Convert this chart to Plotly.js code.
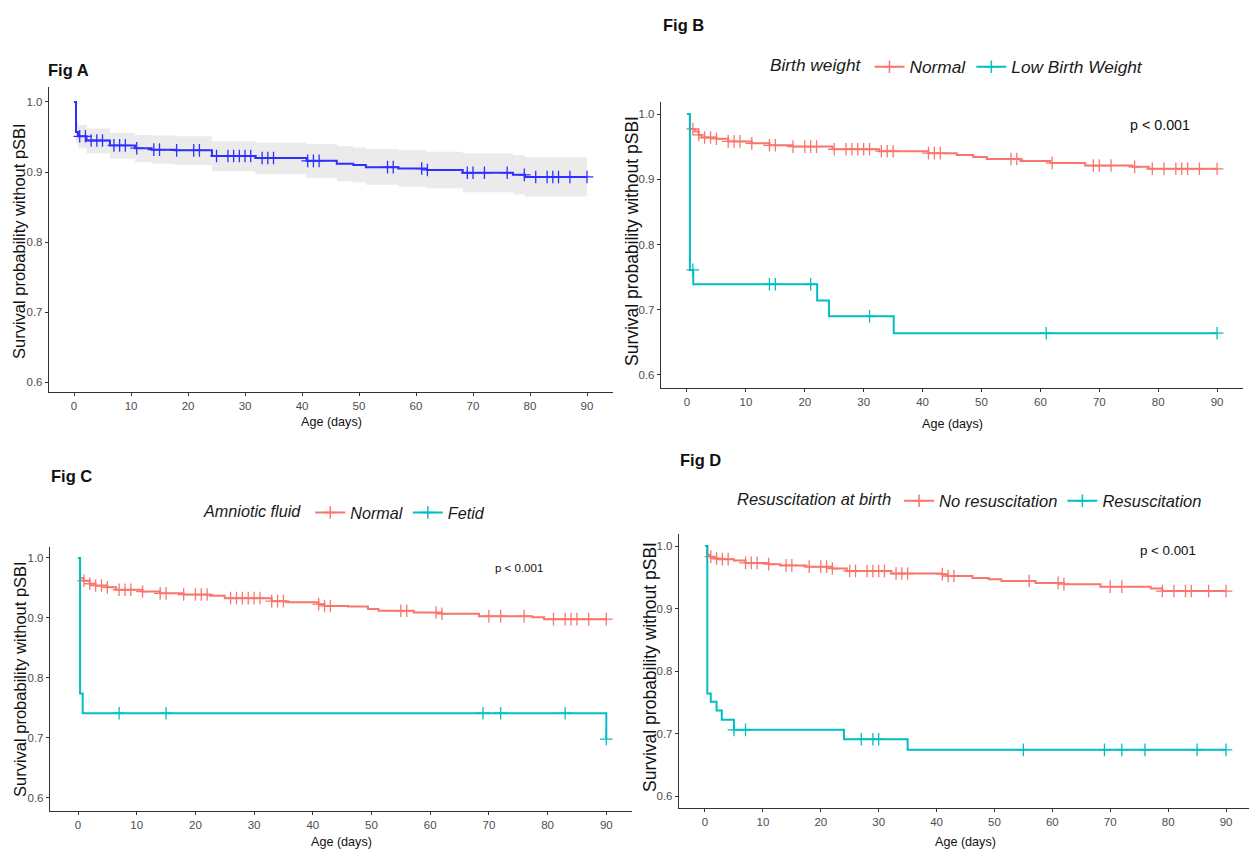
<!DOCTYPE html>
<html>
<head>
<meta charset="utf-8">
<script src="https://cdn.plot.ly/plotly-3.0.1.min.js"></script>
<style>
  html, body { margin: 0; padding: 0; background: #ffffff; }
  #chart { width: 1249px; height: 852px; }
</style>
</head>
<body>
<div id="chart"></div>
<script>
// ---------------- DATA ----------------
const END_DAY = 90;
const xTickValues = [0, 10, 20, 30, 40, 50, 60, 70, 80, 90];
const yTickValues = [0.6, 0.7, 0.8, 0.9, 1.0];

// Fig A : overall
const figA_times = [0, 0.35, 0.7, 2.2, 6.3, 10.7, 13.6, 17.7, 24.2, 31.8, 40.8, 46.1, 49, 51.2, 56.9, 61.9, 68.2, 77, 79.1];
const figA_surv  = [1, 0.957, 0.951, 0.945, 0.938, 0.934, 0.932, 0.931, 0.923, 0.920, 0.916, 0.912, 0.910, 0.907, 0.905, 0.903, 0.899, 0.896, 0.893];
const figA_upper = [1, 0.972, 0.967, 0.962, 0.956, 0.953, 0.952, 0.951, 0.944, 0.942, 0.940, 0.937, 0.935, 0.933, 0.931, 0.929, 0.927, 0.924, 0.921];
const figA_lower = [1, 0.941, 0.934, 0.927, 0.919, 0.914, 0.912, 0.910, 0.901, 0.897, 0.892, 0.887, 0.885, 0.882, 0.879, 0.877, 0.871, 0.868, 0.865];
const figA_censor = [1, 2, 3, 4, 5, 7, 8, 9, 11, 14, 15, 18, 21, 22, 25, 27, 28, 29, 30, 31, 33, 34, 35, 41, 42, 43, 55, 56, 61, 62, 69, 70, 72, 76, 79, 81, 83, 84, 85, 87, 90];

// Fig B : birth weight
const figB_legendTitle = "Birth weight";
const figB_groups = ["Normal", "Low Birth Weight"];
const figB_normal_times = [0, 0.5, 1.3, 2, 2.5, 5, 7, 11, 14, 17.9, 24.7, 32.6, 41, 45.8, 48.6, 50.9, 56.6, 61.7, 67.6, 75.6, 78.4];
const figB_normal_surv  = [1, 0.977, 0.973, 0.968, 0.964, 0.962, 0.958, 0.955, 0.952, 0.950, 0.946, 0.943, 0.940, 0.937, 0.934, 0.931, 0.928, 0.925, 0.921, 0.919, 0.916];
const figB_normal_censor = [1, 2, 3, 4, 5, 7, 8, 9, 11, 14, 15, 18, 20, 21, 22, 25, 27, 28, 29, 30, 31, 33, 34, 35, 41, 42, 43, 55, 56, 62, 69, 70, 72, 76, 79, 81, 83, 84, 85, 87, 90];
const figB_low_times = [0, 0.5, 1.07, 22.1, 24.1, 35.1];
const figB_low_surv  = [1, 0.761, 0.739, 0.714, 0.690, 0.664];
const figB_low_censor = [1, 14, 15, 21, 31, 61, 90];
const figB_p = "p < 0.001";

// Fig C : amniotic fluid
const figC_legendTitle = "Amniotic fluid";
const figC_groups = ["Normal", "Fetid"];
const figC_normal_times = [0, 0.35, 1, 2, 3, 5, 6.5, 11, 14, 18, 22.5, 25, 33, 35.5, 41, 42, 46, 49.4, 51.2, 57.2, 62, 68.3, 77.4, 79.4];
const figC_normal_surv  = [1, 0.966, 0.962, 0.957, 0.954, 0.951, 0.947, 0.944, 0.941, 0.939, 0.937, 0.933, 0.928, 0.926, 0.923, 0.920, 0.919, 0.915, 0.912, 0.909, 0.907, 0.903, 0.901, 0.898];
const figC_normal_censor = [1, 2, 3, 4, 5, 7, 8, 9, 11, 14, 15, 18, 20, 21, 22, 26, 27, 28, 29, 30, 31, 33, 34, 35, 41, 42, 43, 55, 56, 61, 62, 70, 72, 76, 81, 83, 84, 85, 87, 90];
const figC_fetid_times = [0, 0.35, 0.8, 90];
const figC_fetid_surv  = [1, 0.774, 0.741, 0.698];
const figC_fetid_censor = [7, 15, 69, 72, 83, 90];
const figC_p = "p < 0.001";

// Fig D : resuscitation at birth
const figD_legendTitle = "Resuscitation at birth";
const figD_groups = ["No resuscitation", "Resuscitation"];
const figD_nores_times = [0, 0.4, 0.9, 1.5, 2.3, 5, 7, 11, 13, 17.5, 22, 24.5, 32.2, 40.9, 41.8, 46.2, 49, 51.2, 57.1, 62, 68.3, 77, 79];
const figD_nores_surv  = [1, 0.986, 0.983, 0.980, 0.979, 0.977, 0.973, 0.971, 0.969, 0.967, 0.964, 0.960, 0.956, 0.955, 0.952, 0.949, 0.947, 0.944, 0.941, 0.939, 0.935, 0.932, 0.928];
const figD_nores_censor = [1, 2, 3, 4, 7, 8, 9, 11, 14, 15, 18, 20, 21, 22, 25, 26, 28, 29, 30, 31, 33, 34, 35, 41, 42, 43, 56, 61, 62, 70, 72, 79, 81, 83, 84, 87, 90];
const figD_res_times = [0, 0.4, 1, 2, 2.9, 5, 24, 35];
const figD_res_surv  = [1, 0.764, 0.751, 0.737, 0.722, 0.706, 0.691, 0.674];
const figD_res_censor = [5, 7, 27, 29, 30, 55, 69, 72, 76, 85, 90];
const figD_p = "p < 0.001";

const panelTitles = ["Fig A", "Fig B", "Fig C", "Fig D"];
const yTitle = "Survival probability without pSBI";
const xTitle = "Age (days)";

// ---------------- STYLE ----------------
const W = 1249, H = 852;
const FONT = "'Liberation Sans', Arial, sans-serif";
const RED = "#F8766D", TEAL = "#00BFC4", BLUE = "#2F2FFF";
const AXC = "#333333";
const fx = p => p / W;
const fy = p => 1 - p / H;

function ext(arr, last) { return arr.concat([last]); }
function stepAt(times, surv, t) {
  let v = surv[0];
  for (let i = 0; i < times.length; i++) { if (times[i] <= t) v = surv[i]; }
  return v;
}
function curve(times, surv, color, xa, ya) {
  return { type: "scatter", mode: "lines", x: ext(times, END_DAY), y: ext(surv, surv[surv.length - 1]),
    line: { color: color, width: 2, shape: "hv" }, xaxis: xa, yaxis: ya, showlegend: false, hoverinfo: "x+y" };
}
function censor(times, surv, cens, color, xa, ya) {
  return { type: "scatter", mode: "markers", x: cens, y: cens.map(t => stepAt(times, surv, t)),
    marker: { symbol: "cross-thin", size: 9, color: color, line: { color: color, width: 1.3 } },
    xaxis: xa, yaxis: ya, showlegend: false, hoverinfo: "x+y" };
}
function legendKey(name, color, legendId, xa, ya) {
  return { type: "scatter", mode: "lines+markers", x: [null], y: [null], name: name,
    line: { color: color, width: 2 },
    marker: { symbol: "cross-thin", size: 9, color: color, line: { color: color, width: 1.5 } },
    xaxis: xa, yaxis: ya, legend: legendId, showlegend: true };
}

const traces = [];
// Fig A
traces.push({ type: "scatter", mode: "lines", x: ext(figA_times, END_DAY), y: ext(figA_lower, figA_lower[figA_lower.length - 1]),
  line: { width: 0, shape: "hv", color: "rgba(0,0,0,0)" }, xaxis: "x", yaxis: "y", showlegend: false, hoverinfo: "skip" });
traces.push({ type: "scatter", mode: "lines", x: ext(figA_times, END_DAY), y: ext(figA_upper, figA_upper[figA_upper.length - 1]),
  line: { width: 0, shape: "hv", color: "rgba(0,0,0,0)" }, fill: "tonexty", fillcolor: "#EBEBEB",
  xaxis: "x", yaxis: "y", showlegend: false, hoverinfo: "skip" });
traces.push(curve(figA_times, figA_surv, BLUE, "x", "y"));
traces.push(censor(figA_times, figA_surv, figA_censor, BLUE, "x", "y"));
// Fig B
traces.push(curve(figB_normal_times, figB_normal_surv, RED, "x2", "y2"));
traces.push(censor(figB_normal_times, figB_normal_surv, figB_normal_censor, RED, "x2", "y2"));
traces.push(curve(figB_low_times, figB_low_surv, TEAL, "x2", "y2"));
traces.push(censor(figB_low_times, figB_low_surv, figB_low_censor, TEAL, "x2", "y2"));
traces.push(legendKey(figB_groups[0], RED, "legend", "x2", "y2"));
traces.push(legendKey(figB_groups[1], TEAL, "legend", "x2", "y2"));
// Fig C
traces.push(curve(figC_normal_times, figC_normal_surv, RED, "x3", "y3"));
traces.push(censor(figC_normal_times, figC_normal_surv, figC_normal_censor, RED, "x3", "y3"));
traces.push(curve(figC_fetid_times, figC_fetid_surv, TEAL, "x3", "y3"));
traces.push(censor(figC_fetid_times, figC_fetid_surv, figC_fetid_censor, TEAL, "x3", "y3"));
traces.push(legendKey(figC_groups[0], RED, "legend2", "x3", "y3"));
traces.push(legendKey(figC_groups[1], TEAL, "legend2", "x3", "y3"));
// Fig D
traces.push(curve(figD_nores_times, figD_nores_surv, RED, "x4", "y4"));
traces.push(censor(figD_nores_times, figD_nores_surv, figD_nores_censor, RED, "x4", "y4"));
traces.push(curve(figD_res_times, figD_res_surv, TEAL, "x4", "y4"));
traces.push(censor(figD_res_times, figD_res_surv, figD_res_censor, TEAL, "x4", "y4"));
traces.push(legendKey(figD_groups[0], RED, "legend3", "x4", "y4"));
traces.push(legendKey(figD_groups[1], TEAL, "legend3", "x4", "y4"));

function xAxis(l, r, range, anchor) {
  return { domain: [fx(l), Math.min(1, fx(r))], range: range, anchor: anchor, automargin: false,
    tickmode: "array", tickvals: xTickValues, showline: true, linecolor: AXC, linewidth: 1.2,
    ticks: "outside", ticklen: 3, tickcolor: AXC, tickwidth: 1, showgrid: false, zeroline: false,
    tickfont: { family: FONT, size: 11.5, color: "#4D4D4D" }, fixedrange: true };
}
function yAxis(top, bottom, range, anchor) {
  return { domain: [fy(bottom), fy(top)], range: range, anchor: anchor, automargin: false,
    tickmode: "array", tickvals: yTickValues, tickformat: ".1f", showline: true, linecolor: AXC, linewidth: 1.2,
    ticks: "outside", ticklen: 3, tickcolor: AXC, tickwidth: 1, showgrid: false, zeroline: false,
    tickfont: { family: FONT, size: 11.5, color: "#4D4D4D" }, fixedrange: true };
}

function legendBox(title, x, y, size) {
  return { orientation: "h", x: fx(x), y: fy(y), xanchor: "left", yanchor: "middle", traceorder: "normal",
    bgcolor: "rgba(0,0,0,0)", borderwidth: 0, itemwidth: 30,
    title: { text: title, side: "left", font: { family: FONT, size: size, color: "#1a1a1a", style: "italic" } },
    font: { family: FONT, size: size, color: "#1a1a1a", style: "italic" } };
}

function ann(text, x, y, size, opts) {
  return Object.assign({ text: text, xref: "paper", yref: "paper", x: fx(x), y: fy(y),
    xanchor: "center", yanchor: "middle", showarrow: false,
    font: { family: FONT, size: size, color: "#111111" } }, opts || {});
}

const annotations = [
  ann("<b>" + panelTitles[0] + "</b>", 68, 70, 16.5),
  ann("<b>" + panelTitles[1] + "</b>", 683, 25, 16.5),
  ann("<b>" + panelTitles[2] + "</b>", 71, 476, 16.5),
  ann("<b>" + panelTitles[3] + "</b>", 700, 460, 16.5),
  ann(yTitle, 19, 241, 16.5, { textangle: -90 }),
  ann(yTitle, 632, 241, 17.5, { textangle: -90 }),
  ann(yTitle, 20, 679, 16.5, { textangle: -90 }),
  ann(yTitle, 650, 667, 17.5, { textangle: -90 }),
  ann(xTitle, 331, 422, 12.6),
  ann(xTitle, 952, 424, 12.6),
  ann(xTitle, 341, 842, 12.6),
  ann(xTitle, 965, 842, 12.6),
  ann(figB_p, 1160, 125, 14.3),
  ann(figC_p, 519, 568, 11.5),
  ann(figD_p, 1168, 550, 13.3)
];

const layout = {
  width: W, height: H,
  margin: { l: 0, r: 0, t: 0, b: 0, autoexpand: false },
  paper_bgcolor: "#ffffff", plot_bgcolor: "#ffffff",
  showlegend: true,
  xaxis:  xAxis(49, 613, [-4.39, 94.56], "y"),
  yaxis:  yAxis(87, 392, [0.586, 1.0214], "x"),
  xaxis2: xAxis(661, 1243, [-4.41, 94.4], "y2"),
  yaxis2: yAxis(102, 388, [0.580, 1.0184], "x2"),
  xaxis3: xAxis(50, 632, [-4.77, 94.38], "y3"),
  yaxis3: yAxis(547, 811, [0.578, 1.0183], "x3"),
  xaxis4: xAxis(679, 1249, [-4.49, 93.97], "y4"),
  yaxis4: yAxis(534, 808, [0.581, 1.0192], "x4"),
  legend:  legendBox(figB_legendTitle, 768, 67, 17.3),
  legend2: legendBox(figC_legendTitle, 202, 513, 16.2),
  legend3: legendBox(figD_legendTitle, 735, 501, 16.5),
  annotations: annotations
};

Plotly.newPlot("chart", traces, layout, { staticPlot: true, displayModeBar: false });
</script>
</body>
</html>
